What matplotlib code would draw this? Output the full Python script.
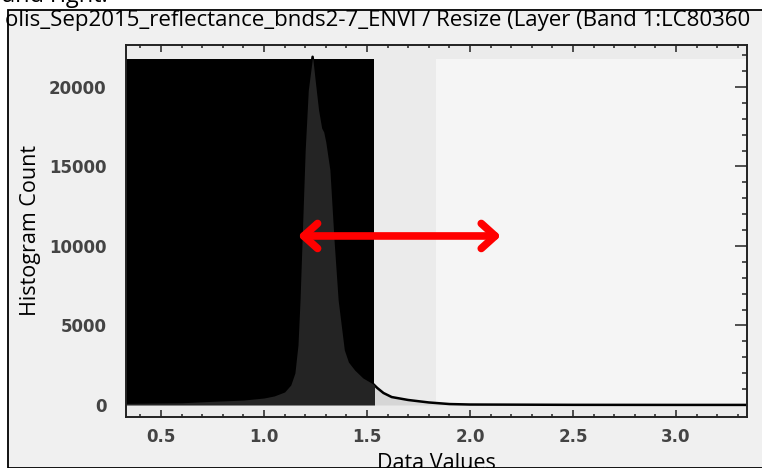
import numpy as np
import matplotlib
matplotlib.use('Agg')
import matplotlib.pyplot as plt
from matplotlib.patches import Rectangle
from matplotlib.ticker import MultipleLocator

# histogram
data_values = [0.33, 0.45, 0.60, 0.75, 0.90, 1.00, 1.05, 1.10, 1.13, 1.15,
               1.165, 1.175, 1.185, 1.20, 1.215, 1.236, 1.25, 1.265, 1.28, 1.29,
               1.30, 1.32, 1.34, 1.36, 1.39, 1.41, 1.44, 1.48, 1.53, 1.55,
               1.58, 1.62, 1.70, 1.80, 1.90, 2.00, 2.50, 3.00, 3.345]
hist_count = [100, 120, 140, 230, 310, 440, 570, 820, 1260, 2010,
              3770, 6600, 10380, 16040, 19800, 21900, 20250, 18550, 17420, 17170,
              16540, 14780, 10380, 6600, 3460, 2700, 2200, 1700, 1320, 1070,
              755, 500, 315, 160, 60, 30, 10, 5, 5]

# stretch limits (black box = left cut, light box = right cut)
stretch_min, stretch_max = 0.33, 1.536
right_min, right_max = 1.835, 3.345
box_top = 21760
arrow_from, arrow_to, arrow_y = 2.15, 1.165, 10630

title = 'olis_Sep2015_reflectance_bnds2-7_ENVI / Resize (Layer (Band 1:LC80360'

fig = plt.figure(figsize=(7.62, 4.68), dpi=100)
fig.patch.set_facecolor('white')
# window panel with black frame
frame = Rectangle((8/762, 0), 1, 1 - 10/468, transform=fig.transFigure,
                  facecolor='#f0f0f0', edgecolor='black', lw=1.3, zorder=-5)
fig.patches.append(frame)
fig.text(2/762, 1 - 2/468, 'and right.', fontsize=17, family='Open Sans',
         va='baseline', ha='left')
fig.text(5/762, 1 - 26/468, title, fontsize=16, family='Open Sans',
         va='baseline', ha='left')

ax = fig.add_axes([126/762, 1 - 417/468, 621/762, 372/468])
ax.set_facecolor('#ebebeb')
x = np.array(data_values)
y = np.array(hist_count)

ax.add_patch(Rectangle((right_min, 0), right_max - right_min, box_top,
                       facecolor='#f5f5f5', edgecolor='none', zorder=0))
ax.fill_between(x, 0, y, color='#d6d6d6', lw=0, zorder=1)
ax.plot(x, y, color='black', lw=1.8, zorder=2)
blk = Rectangle((stretch_min, 0), stretch_max - stretch_min, box_top,
                facecolor='black', edgecolor='none', zorder=3)
ax.add_patch(blk)
dark = ax.fill_between(x, 0, y, color='#242424', lw=0, zorder=4)
dark.set_clip_path(blk)

ax.annotate('', xy=(arrow_to, arrow_y), xytext=(arrow_from, arrow_y),
            arrowprops=dict(arrowstyle='<->,head_length=1.0,head_width=0.9',
                            color='#ff0000', lw=5.5, shrinkA=0, shrinkB=0,
                            capstyle='round', joinstyle='round'), zorder=6)

ax.set_xlim(0.33, 3.345)
ax.set_ylim(-755, 22640)
ax.xaxis.set_major_locator(MultipleLocator(0.5))
ax.xaxis.set_minor_locator(MultipleLocator(0.1))
ax.yaxis.set_major_locator(MultipleLocator(5000))
ax.yaxis.set_minor_locator(MultipleLocator(1000))
ax.tick_params(axis='x', which='both', direction='in', top=True, bottom=True,
               width=1.1, color='#222222')
ax.tick_params(axis='x', which='major', length=5)
ax.tick_params(axis='x', which='minor', length=2.5)
ax.tick_params(axis='y', which='both', direction='in', left=False, right=True,
               width=1.1, color='#222222')
ax.tick_params(axis='y', which='major', length=8.5)
ax.tick_params(axis='y', which='minor', length=3.5)
ax.tick_params(axis='both', which='major', labelsize=12, labelcolor='#444444')
ax.tick_params(axis='y', pad=14)
ax.tick_params(axis='x', pad=8)
for lab in ax.get_xticklabels() + ax.get_yticklabels():
    lab.set_fontweight('bold')
for s in ax.spines.values():
    s.set_linewidth(1.4)
    s.set_color('#222222')
    s.set_zorder(7)

ax.set_xlabel('Data Values', fontsize=15.5, family='Open Sans', labelpad=5)
ax.set_ylabel('Histogram Count', fontsize=15.5, family='Open Sans', labelpad=6)

fig.savefig('out.png', dpi=100)
